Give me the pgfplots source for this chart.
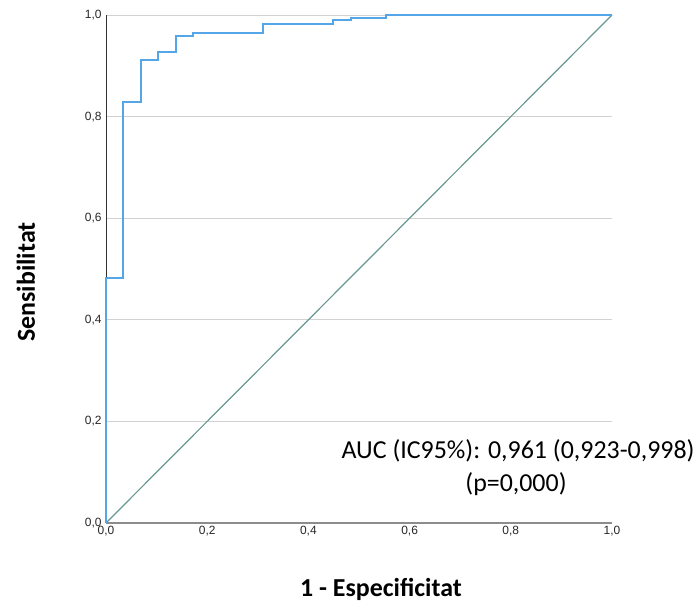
\documentclass[border=0pt]{standalone}
\usepackage{pgfplots}
\pgfplotsset{compat=1.18}
\usepackage{fontspec}
\setmainfont{Liberation Sans}
\newfontfamily\carlito{Carlito}
\definecolor{rocblue}{RGB}{84,166,232}
\definecolor{diag}{RGB}{104,152,146}
\definecolor{gridgray}{RGB}{210,210,210}
\definecolor{xaxgray}{RGB}{140,140,140}
\begin{document}
\begin{tikzpicture}
\useasboundingbox (0,0) rectangle (699bp,604bp);
\begin{axis}[
  at={(106bp,81bp)}, anchor=south west,
  scale only axis, width=506bp, height=508bp,
  xmin=0, xmax=1, ymin=0, ymax=1,
  axis x line*=bottom, axis y line*=left,
  x axis line style={xaxgray, line width=1.3pt, -},
  y axis line style={black!80, line width=1pt, -},
  xtick={0,0.2,...,1.0}, ytick={0,0.2,...,1.0},
  major tick length=0pt,
  ymajorgrids, grid style={gridgray, line width=0.8pt},
  tick label style={font=\fontsize{12}{13}\selectfont, text=black!85},
  /pgf/number format/assume math mode=true,
  /pgf/number format/.cd, use comma, fixed, fixed zerofill, precision=1,
  /pgfplots/.cd,
  xticklabel style={yshift=0bp},
  yticklabel style={xshift=-1bp},
  clip=false,
]
\addplot[diag, line width=1.2pt] coordinates {(0,0) (1,1)};
\addplot[rocblue, line width=2pt, line join=miter, line cap=butt] coordinates {
(0,0) (0,0.483) (0.0345,0.483) (0.0345,0.829) (0.069,0.829) (0.069,0.912)
(0.1035,0.912) (0.1035,0.928) (0.138,0.928) (0.138,0.958) (0.1725,0.958)
(0.1725,0.965) (0.310,0.965) (0.310,0.983) (0.449,0.983) (0.449,0.990)
(0.484,0.990) (0.484,0.995) (0.553,0.995) (0.553,1) (1,1)};
\end{axis}
\node[font=\carlito\bfseries\fontsize{26}{30}\selectfont] at (381bp,15bp) {1 - Especificitat};
\node[font=\carlito\bfseries\fontsize{26}{30}\selectfont, rotate=90] at (26bp,322bp) {Sensibilitat};
\node[font=\carlito\fontsize{26}{30}\selectfont, anchor=east] at (698bp,153bp) {AUC (IC95\%): 0,961 (0,923-0,998)};
\node[font=\carlito\fontsize{26}{30}\selectfont] at (516bp,120bp) {(p=0,000)};
\end{tikzpicture}
\end{document}
